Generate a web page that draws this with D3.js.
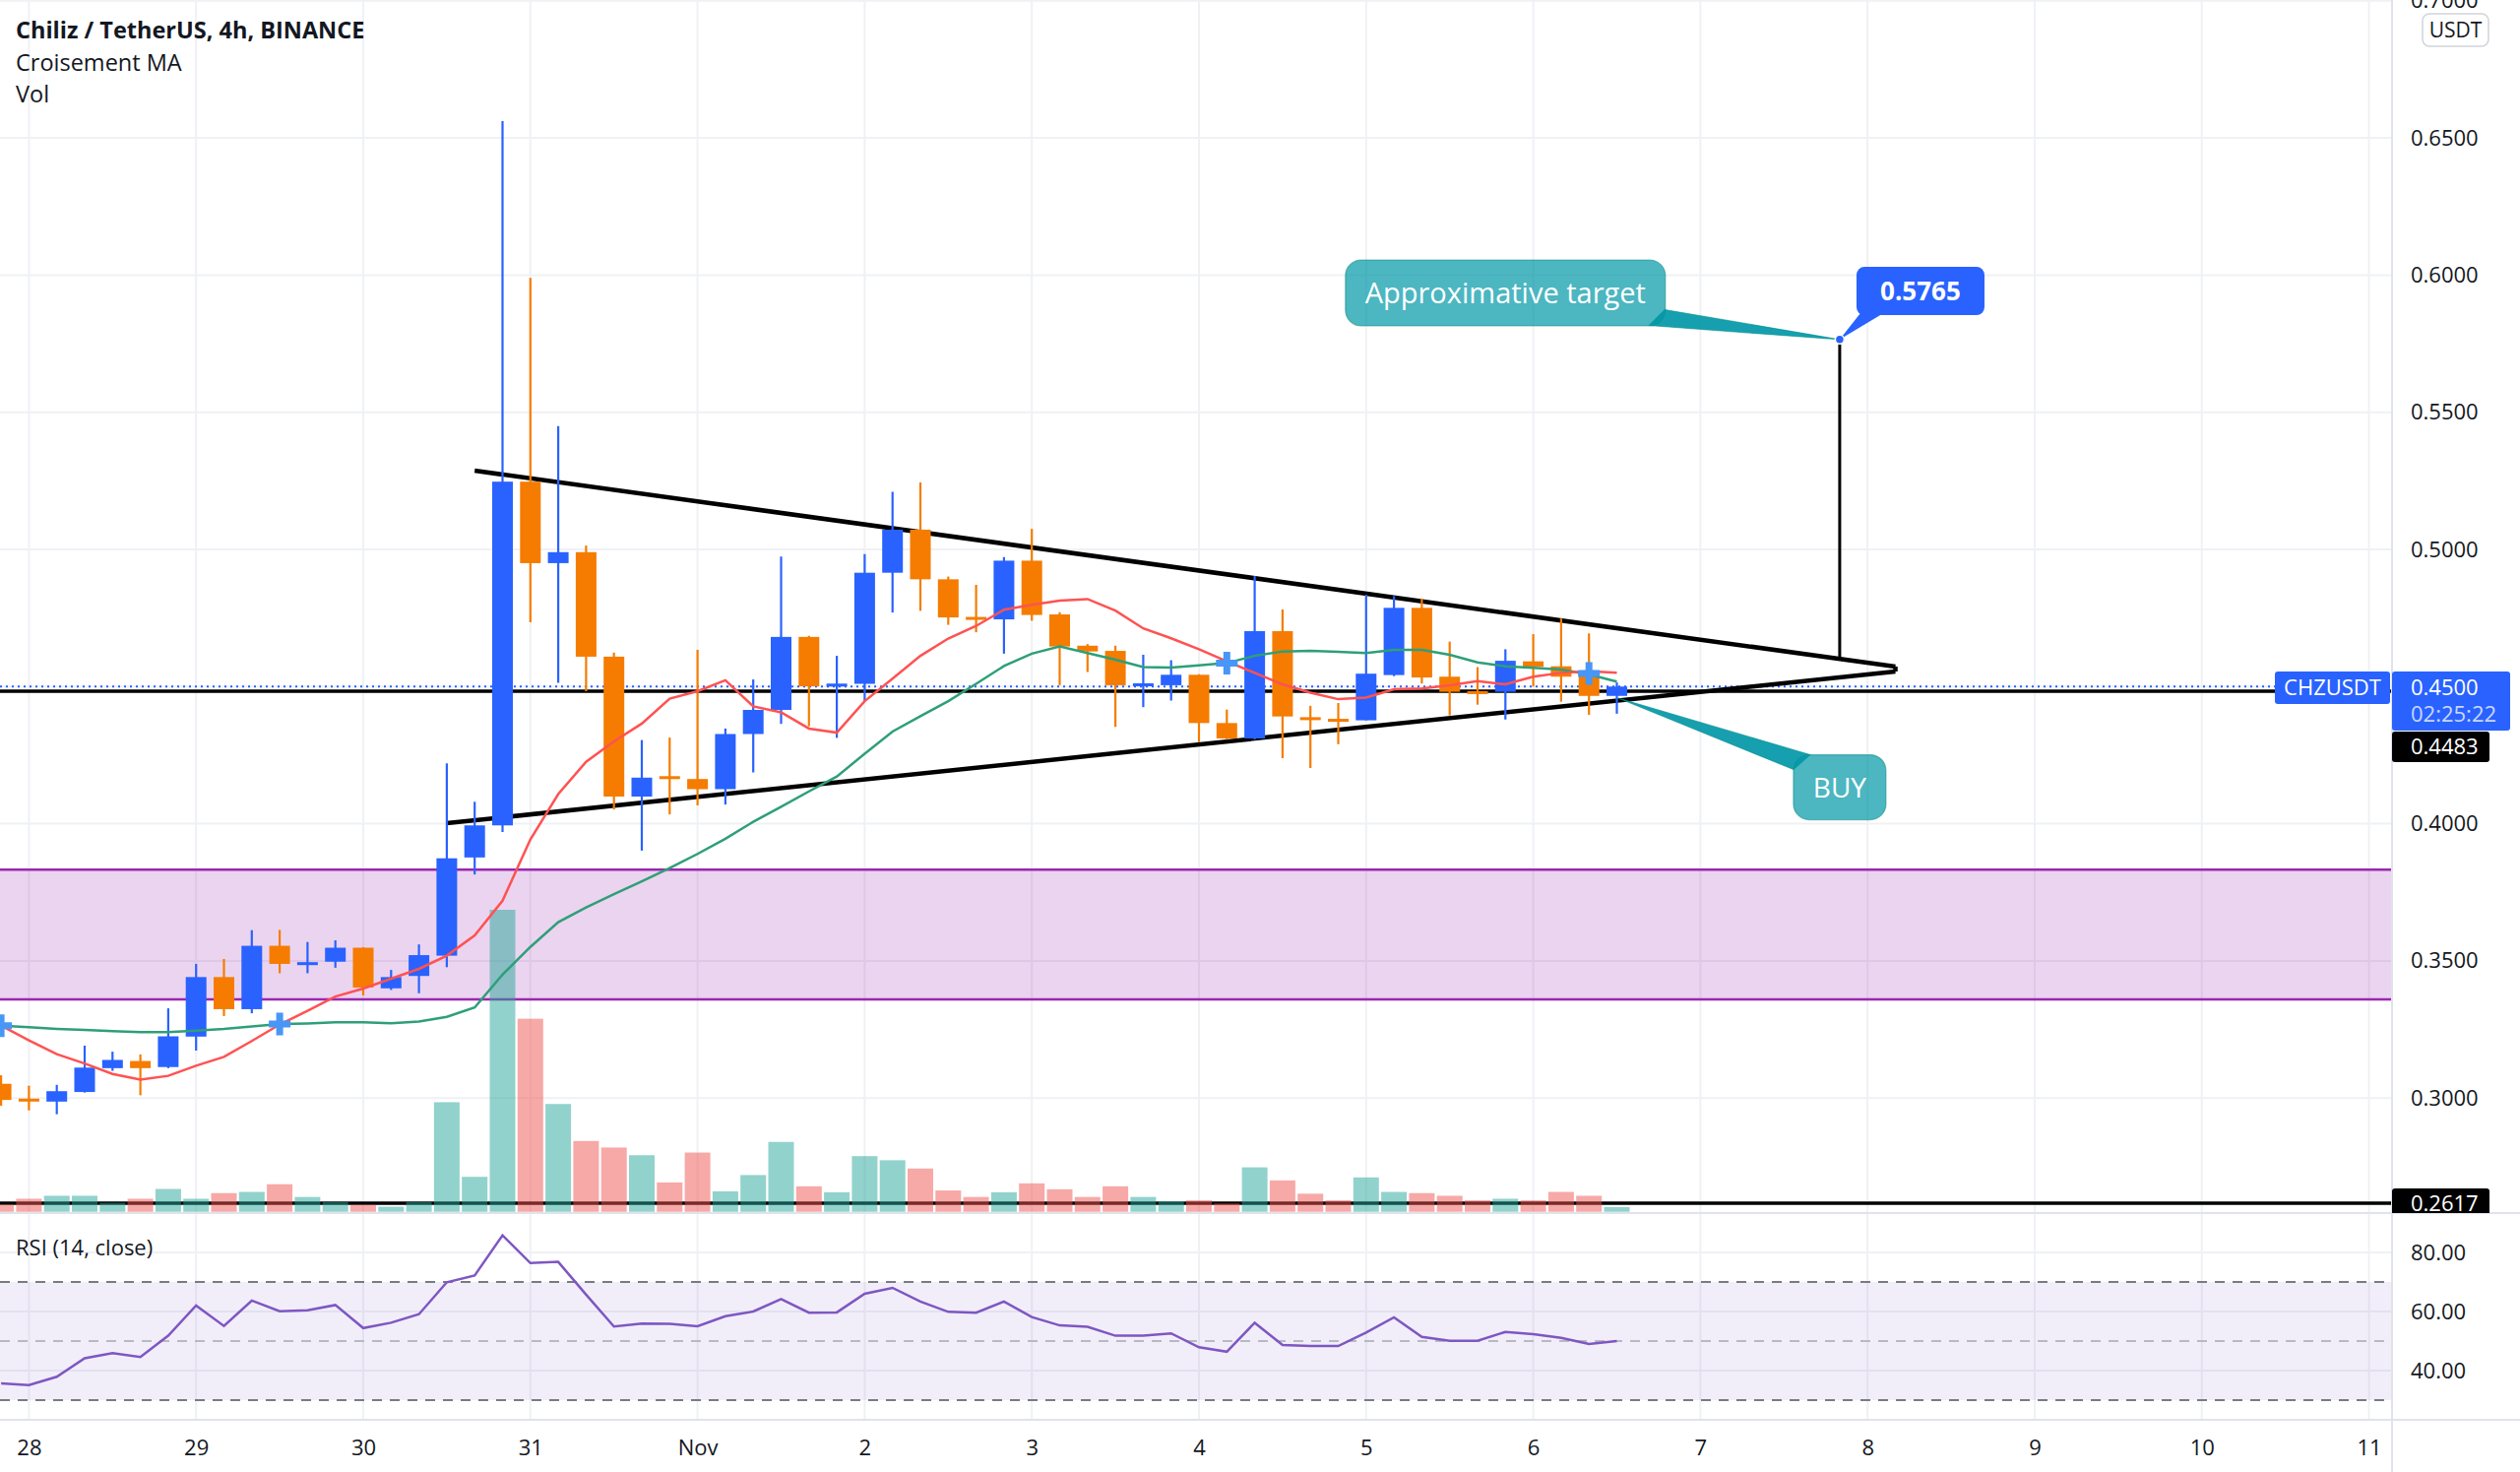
<!DOCTYPE html>
<html>
<head>
<meta charset="utf-8">
<script src="https://cdn.jsdelivr.net/npm/d3@7"></script>
<style>
  body { margin: 0; background: #fff; }
  svg { display: block; font-family: "Open Sans", sans-serif; }
</style>
</head>
<body>
<svg id="chartSvg"></svg>
<script>
"use strict";

// CHZ/USDT 4h candles, first bar is Oct 27 20:00 UTC
let opens  = [0.3052,0.2995,0.2987,0.3022,0.3109,0.3135,0.3113,0.3224,0.3441,0.3324,0.3555,0.3488,0.3497,0.3548,0.3400,0.3445,0.3519,0.3877,0.3994,0.5247,0.4950,0.4990,0.4609,0.4099,0.4170,0.4163,0.4126,0.4327,0.4415,0.4681,0.4501,0.4510,0.4915,0.5072,0.4891,0.4752,0.4745,0.4959,0.4763,0.4649,0.4630,0.4504,0.4505,0.4543,0.4367,0.4311,0.4702,0.4385,0.4379,0.4377,0.4542,0.4787,0.4536,0.4480,0.4481,0.4592,0.4574,0.4553,0.4466];
let highs  = [0.3083,0.3045,0.3048,0.3191,0.3169,0.3159,0.3327,0.3489,0.3507,0.3612,0.3613,0.3569,0.3575,0.3550,0.3467,0.3560,0.4220,0.4080,0.6561,0.5990,0.5450,0.5014,0.4624,0.4305,0.4314,0.4634,0.4347,0.4526,0.4974,0.4685,0.4612,0.4983,0.5210,0.5244,0.4901,0.4871,0.4972,0.5075,0.4771,0.4655,0.4649,0.4616,0.4596,0.4545,0.4416,0.4903,0.4781,0.4430,0.4440,0.4835,0.4830,0.4821,0.4664,0.4571,0.4636,0.4691,0.4748,0.4694,0.4515];
let lows   = [0.2972,0.2955,0.2941,0.3020,0.3099,0.3010,0.3109,0.3173,0.3299,0.3309,0.3455,0.3455,0.3475,0.3374,0.3394,0.3382,0.3477,0.3815,0.3970,0.4734,0.4514,0.4483,0.4052,0.3902,0.4034,0.4067,0.4070,0.4187,0.4364,0.4355,0.4313,0.4447,0.4770,0.4776,0.4725,0.4698,0.4620,0.4740,0.4505,0.4553,0.4353,0.4425,0.4449,0.4297,0.4306,0.4307,0.4239,0.4203,0.4290,0.4377,0.4538,0.4511,0.4395,0.4434,0.4380,0.4500,0.4445,0.4397,0.4401];
let closes = [0.2993,0.2990,0.3025,0.3111,0.3139,0.3109,0.3225,0.3441,0.3324,0.3555,0.3489,0.3492,0.3548,0.3403,0.3441,0.3521,0.3874,0.3994,0.5247,0.4950,0.4990,0.4609,0.4099,0.4168,0.4166,0.4126,0.4327,0.4415,0.4681,0.4501,0.4510,0.4915,0.5072,0.4891,0.4752,0.4745,0.4959,0.4761,0.4646,0.4628,0.4505,0.4509,0.4543,0.4367,0.4311,0.4702,0.4391,0.4381,0.4375,0.4547,0.4787,0.4533,0.4481,0.4476,0.4594,0.4572,0.4536,0.4466,0.4500];
let volumes = [2.4,4.4,5.4,5.4,3.0,4.4,7.7,4.4,6.3,6.7,9.3,5.0,3.3,2.3,1.7,3.3,37,11.8,102,65.2,36.4,23.9,21.7,19.1,9.9,20,6.9,12.4,23.6,8.6,6.6,18.8,17.4,14.6,7.2,5.0,6.6,9.6,7.6,5.0,8.6,5.0,3.6,3.9,2.8,15,10.6,6.1,3.9,11.6,6.7,6.3,5.4,3.9,4.4,3.9,6.7,5.4,1.6];

// "Croisement MA" lines
let maFast = [0.3264,0.3210,0.3160,0.3126,0.3088,0.3067,0.3081,0.3118,0.3150,0.3208,0.3268,0.3318,0.3370,0.3399,0.3435,0.3471,0.3519,0.3593,0.3719,0.3943,0.4108,0.4226,0.4300,0.4365,0.4456,0.4483,0.4523,0.4428,0.4406,0.4347,0.4332,0.4447,0.4529,0.4612,0.4675,0.4721,0.4780,0.4798,0.4813,0.4819,0.4777,0.4712,0.4676,0.4636,0.4592,0.4550,0.4508,0.4478,0.4454,0.4460,0.4490,0.4493,0.4505,0.4520,0.4508,0.4536,0.4550,0.4556,0.4550];
let maSlow = [0.3264,0.3258,0.3252,0.3248,0.3244,0.3240,0.3240,0.3246,0.3252,0.3261,0.3270,0.3272,0.3276,0.3276,0.3273,0.3279,0.3296,0.3330,0.3450,0.3551,0.3641,0.3695,0.3743,0.3790,0.3838,0.3890,0.3945,0.4007,0.4062,0.4118,0.4172,0.4255,0.4336,0.4392,0.4447,0.4510,0.4575,0.4620,0.4646,0.4622,0.4598,0.4571,0.4569,0.4577,0.4586,0.4612,0.4628,0.4630,0.4627,0.4622,0.4634,0.4634,0.4616,0.4588,0.4574,0.4568,0.4562,0.4544,0.4518];
let crossBars = [0, 10, 44, 57];
let crossPrices = [0.3264, 0.3270, 0.4585, 0.4548];

// RSI (14, close)
let rsi = [35.7,35.1,37.9,44.2,45.9,44.6,51.8,62.0,55.1,63.7,60.1,60.4,62.2,54.4,56.2,59.1,69.9,72.2,85.8,76.4,76.8,65.7,54.9,55.9,55.8,55.0,58.4,60.0,64.2,59.6,59.7,66.0,68.0,63.4,59.9,59.6,63.4,58.1,55.3,54.8,51.8,51.8,52.6,47.9,46.4,56.2,48.7,48.3,48.3,52.9,58.0,51.4,50.1,50.1,53.1,52.3,51.1,49.0,50.0];

// axis ticks
let priceTicks = [0.30, 0.35, 0.40, 0.45, 0.50, 0.55, 0.60, 0.65, 0.70];
let priceLabels = [0.30, 0.35, 0.40, 0.50, 0.55, 0.60, 0.65, 0.70];
let rsiTicks = [40, 60, 80];

// drawings
let zoneTop = 0.3833, zoneBottom = 0.3360;
let lastPrice = 0.4500, blackLevels = [0.4483, 0.2617];
let upperLine = [[64, 0.5287], [268, 0.4573]];   // hours from Oct 28 00:00
let apexLine = [[268, 0.4573], [268, 0.4555]];
let lowerLine = [[60, 0.4002], [268, 0.4555]];
let targetLine = [[260, 0.5765], [260, 0.4602]];

let W = 2560, H = 1495;
let plotRight = 2430, mainBottom = 1232, rsiBottom = 1442;

let t0 = Date.UTC(2021, 9, 28);
let hourDate = h => new Date(t0 + h * 3600e3);
let barTimes = d3.utcHour.every(4).range(hourDate(-4), hourDate(-4 + 4 * opens.length));
let days = d3.utcDay.range(hourDate(0), hourDate(24 * 14 + 1));

let xScale = d3.scaleUtc().domain([hourDate(0), hourDate(24 * 14)]).range([29.4, 2406.6]);
let yScale = d3.scaleLinear().domain([0.30, 0.65]).range([1115.2, 140.1]);
let yVol = d3.scaleLinear().domain([0, 102]).range([1230.7, 924]);
let yRsi = d3.scaleLinear().domain([30, 70]).range([1422, 1302]);

let svg = d3.select("#chartSvg").attr("width", W).attr("height", H);
svg.append("rect").attr("width", W).attr("height", H).attr("fill", "#fff");

let defs = svg.append("defs");
defs.append("clipPath").attr("id", "mainClip").append("rect")
  .attr("x", 0).attr("y", 0).attr("width", plotRight).attr("height", mainBottom);
defs.append("clipPath").attr("id", "rsiClip").append("rect")
  .attr("x", 0).attr("y", mainBottom).attr("width", plotRight).attr("height", rsiBottom - mainBottom);
defs.append("clipPath").attr("id", "axisClip").append("rect")
  .attr("x", plotRight).attr("y", 0).attr("width", W - plotRight).attr("height", mainBottom);

// grid
let grid = svg.append("g").attr("stroke", "#eff1f5").attr("stroke-width", 2);
grid.selectAll(".vg").data(days).join("line")
  .attr("x1", d => xScale(d)).attr("x2", d => xScale(d))
  .attr("y1", 0).attr("y2", rsiBottom);
grid.selectAll(".hg").data(priceTicks).join("line")
  .attr("x1", 0).attr("x2", plotRight)
  .attr("y1", d => yScale(d)).attr("y2", d => yScale(d));
grid.selectAll(".rg").data(rsiTicks).join("line")
  .attr("x1", 0).attr("x2", plotRight)
  .attr("y1", d => yRsi(d)).attr("y2", d => yRsi(d));

// main pane
let main = svg.append("g").attr("clip-path", "url(#mainClip)");

main.append("rect")
  .attr("x", 0).attr("width", plotRight)
  .attr("y", yScale(zoneTop)).attr("height", yScale(zoneBottom) - yScale(zoneTop))
  .attr("fill", "rgba(156,39,176,0.2)");
main.selectAll(".zb").data([zoneTop, zoneBottom]).join("line")
  .attr("x1", 0).attr("x2", plotRight)
  .attr("y1", d => yScale(d)).attr("y2", d => yScale(d))
  .attr("stroke", "#9c27b0").attr("stroke-width", 2.5);

main.selectAll(".bl").data(blackLevels).join("line")
  .attr("x1", 0).attr("x2", plotRight)
  .attr("y1", d => yScale(d)).attr("y2", d => yScale(d))
  .attr("stroke", "#000").attr("stroke-width", 3.5);

main.append("line")
  .attr("x1", 0).attr("x2", 2311)
  .attr("y1", yScale(lastPrice)).attr("y2", yScale(lastPrice))
  .attr("stroke", "#2962ff").attr("stroke-width", 2).attr("stroke-dasharray", "2,4");

// volume
let bw = 26;
main.selectAll(".vol").data(volumes).join("rect")
  .attr("x", (d, i) => xScale(barTimes[i]) - bw / 2)
  .attr("width", bw)
  .attr("y", d => yVol(d))
  .attr("height", d => yVol(0) - yVol(d))
  .attr("fill", (d, i) => closes[i] >= opens[i] ? "rgba(38,166,154,0.5)" : "rgba(239,83,80,0.5)");

// trend lines
let ptLine = d3.line().x(d => xScale(hourDate(d[0]))).y(d => yScale(d[1]));
[upperLine, apexLine, lowerLine].forEach(l => {
  main.append("path").attr("d", ptLine(l))
    .attr("fill", "none").attr("stroke", "#000").attr("stroke-width", 4.5);
});
main.append("path").attr("d", ptLine(targetLine))
  .attr("fill", "none").attr("stroke", "#000").attr("stroke-width", 3);

// candles
let upColor = "#2962ff", downColor = "#f57c00";
let candles = main.selectAll(".candle").data(opens).join("g")
  .attr("fill", (d, i) => closes[i] >= opens[i] ? upColor : downColor)
  .attr("stroke", (d, i) => closes[i] >= opens[i] ? upColor : downColor);
candles.append("line")
  .attr("x1", (d, i) => xScale(barTimes[i])).attr("x2", (d, i) => xScale(barTimes[i]))
  .attr("y1", (d, i) => yScale(highs[i])).attr("y2", (d, i) => yScale(lows[i]))
  .attr("stroke-width", 2.2);
candles.append("rect")
  .attr("stroke", "none")
  .attr("x", (d, i) => xScale(barTimes[i]) - 10.5)
  .attr("width", 21)
  .attr("y", (d, i) => {
    let top = yScale(Math.max(opens[i], closes[i]));
    let h = yScale(Math.min(opens[i], closes[i])) - top;
    return h < 3 ? top - (3 - h) / 2 : top;
  })
  .attr("height", (d, i) => Math.max(3, Math.abs(yScale(opens[i]) - yScale(closes[i]))));

// moving averages
let maLine = d3.line().x((d, i) => xScale(barTimes[i])).y(d => yScale(d));
main.append("path").attr("d", maLine(maSlow))
  .attr("fill", "none").attr("stroke", "#2e9f78").attr("stroke-width", 2.5);
main.append("path").attr("d", maLine(maFast))
  .attr("fill", "none").attr("stroke", "#ff5252").attr("stroke-width", 2.5);

// cross markers
main.selectAll(".cross").data(crossBars).join("path")
  .attr("transform", (d, i) => `translate(${xScale(barTimes[d])},${yScale(crossPrices[i])})`)
  .attr("d", "M-3.5,-11.5H3.5V-3.5H11V3.5H3.5V11.5H-3.5V3.5H-11V-3.5H-3.5Z")
  .attr("fill", "#4896f5");

// callouts
let callFill = "rgba(0,151,167,0.7)";
function callout(text, cx, cy, w, h, tip, p1, p2, fs) {
  let g = svg.append("g");
  g.append("path")
    .attr("d", `M${p1[0]},${p1[1]}L${tip[0]},${tip[1]}L${p2[0]},${p2[1]}Z`)
    .attr("fill", callFill).attr("stroke", "rgba(0,137,123,0.5)").attr("stroke-width", 1.2);
  g.append("rect")
    .attr("x", cx - w / 2).attr("y", cy - h / 2).attr("width", w).attr("height", h)
    .attr("rx", 16).attr("fill", callFill).attr("stroke", "rgba(0,137,123,0.5)").attr("stroke-width", 1.2);
  g.append("path")
    .attr("d", `M${p1[0]},${p1[1]}L${tip[0]},${tip[1]}L${p2[0]},${p2[1]}`)
    .attr("fill", callFill);
  g.append("text").attr("x", cx).attr("y", cy).attr("dy", "0.36em")
    .attr("text-anchor", "middle").attr("fill", "#fff")
    .attr("font-size", fs).text(text);
}

let tgt = [xScale(hourDate(targetLine[0][0])), yScale(targetLine[0][1])];
let tbx = xScale(hourDate(212)), tby = yScale(0.5935);
callout("Approximative target", tbx, tby, 325, 67, tgt,
  [tbx + 162, tby + 17], [tbx + 146, tby + 33], 29);

let buyTip = [xScale(hourDate(228.2)), yScale(0.4458)];
let bbx = xScale(hourDate(260)), bby = yScale(0.4133);
callout("BUY", bbx, bby, 94, 66, buyTip,
  [bbx - 47, bby - 18], [bbx - 30, bby - 33], 28);

// target price label
let lbx = xScale(hourDate(271.6)), lby = yScale(0.5942);
let lab = svg.append("g");
lab.append("path")
  .attr("d", `M${lbx - 59},${lby + 20}L${tgt[0]},${tgt[1]}L${lbx - 40},${lby + 24}Z`)
  .attr("fill", "#2962ff");
lab.append("rect").attr("x", lbx - 65).attr("y", lby - 24.5).attr("width", 130).attr("height", 49)
  .attr("rx", 8).attr("fill", "#2962ff");
lab.append("text").attr("x", lbx).attr("y", lby).attr("dy", "0.36em")
  .attr("text-anchor", "middle").attr("fill", "#fff").attr("font-weight", "bold")
  .attr("font-size", 26).text(d3.format(".4f")(targetLine[0][1]));
lab.append("circle").attr("cx", tgt[0]).attr("cy", tgt[1]).attr("r", 4.5)
  .attr("fill", "#2962ff").attr("stroke", "#fff").attr("stroke-width", 1.5);

// rsi pane
let rsiG = svg.append("g").attr("clip-path", "url(#rsiClip)");
rsiG.append("rect")
  .attr("x", 0).attr("width", plotRight)
  .attr("y", yRsi(70)).attr("height", yRsi(30) - yRsi(70))
  .attr("fill", "rgba(126,87,194,0.1)");
rsiG.selectAll(".rb").data([70, 50, 30]).join("line")
  .attr("x1", 0).attr("x2", plotRight)
  .attr("y1", d => yRsi(d)).attr("y2", d => yRsi(d))
  .attr("stroke", d => d === 50 ? "#b8bac3" : "#787b86")
  .attr("stroke-width", 2).attr("stroke-dasharray", "10,8");
rsiG.append("path")
  .attr("d", d3.line().x((d, i) => xScale(barTimes[i])).y(d => yRsi(d))(rsi))
  .attr("fill", "none").attr("stroke", "#7e57c2").attr("stroke-width", 2.5);

// pane borders
let borders = svg.append("g").attr("stroke", "#e0e3eb").attr("stroke-width", 2);
borders.append("line").attr("x1", 0).attr("x2", W).attr("y1", mainBottom).attr("y2", mainBottom);
borders.append("line").attr("x1", 0).attr("x2", W).attr("y1", rsiBottom).attr("y2", rsiBottom);
borders.append("line").attr("x1", plotRight).attr("x2", plotRight).attr("y1", 0).attr("y2", H);

// axes
let textColor = "#131722";
let priceAxis = svg.append("g").attr("clip-path", "url(#axisClip)")
  .append("g")
  .attr("transform", `translate(${plotRight},0)`)
  .call(d3.axisRight(yScale).tickValues(priceLabels).tickFormat(d3.format(".4f")).tickSize(0).tickPadding(19));
let rsiAxis = svg.append("g")
  .attr("transform", `translate(${plotRight},0)`)
  .call(d3.axisRight(yRsi).tickValues(rsiTicks).tickFormat(d3.format(".2f")).tickSize(0).tickPadding(19));
let timeAxis = svg.append("g")
  .attr("transform", `translate(0,${rsiBottom})`)
  .call(d3.axisBottom(xScale).tickValues(days)
    .tickFormat(d => d.getUTCDate() === 1 ? d3.utcFormat("%b")(d) : d.getUTCDate())
    .tickSize(0).tickPadding(20));
[priceAxis, rsiAxis, timeAxis].forEach(a => {
  a.select(".domain").remove();
  a.selectAll("text").attr("font-family", "Open Sans").attr("font-size", 22).attr("fill", textColor);
});

// labels for the last price line
svg.append("rect").attr("x", 2311).attr("y", 682).attr("width", 117).attr("height", 33)
  .attr("rx", 3).attr("fill", "#2962ff");
svg.append("text").attr("x", 2369.5).attr("y", 706).attr("text-anchor", "middle")
  .attr("font-size", 22).attr("fill", "#fff").text("CHZUSDT");

let axLab = svg.append("g").attr("clip-path", "url(#axisClip)").attr("font-size", 22);
axLab.append("rect").attr("x", plotRight).attr("y", 682).attr("width", 120).attr("height", 60)
  .attr("rx", 3).attr("fill", "#2962ff");
axLab.append("text").attr("x", 2449).attr("y", 706).attr("fill", "#fff").text(d3.format(".4f")(lastPrice));
axLab.append("text").attr("x", 2449).attr("y", 733).attr("fill", "rgba(255,255,255,0.75)").text("02:25:22");
axLab.append("rect").attr("x", plotRight).attr("y", 743).attr("width", 99).attr("height", 31)
  .attr("rx", 3).attr("fill", "#000");
axLab.append("text").attr("x", 2449).attr("y", 766).attr("fill", "#fff").text(d3.format(".4f")(blackLevels[0]));
axLab.append("rect").attr("x", plotRight).attr("y", yScale(blackLevels[1]) - 15).attr("width", 99).attr("height", 31)
  .attr("rx", 3).attr("fill", "#000");
axLab.append("text").attr("x", 2449).attr("y", yScale(blackLevels[1]) + 8).attr("fill", "#fff")
  .text(d3.format(".4f")(blackLevels[1]));

// currency badge
svg.append("rect").attr("x", 2461).attr("y", 14).attr("width", 67).attr("height", 33)
  .attr("rx", 7).attr("fill", "#fff").attr("stroke", "#d1d4dc").attr("stroke-width", 1.5);
svg.append("text").attr("x", 2494.5).attr("y", 38).attr("text-anchor", "middle")
  .attr("font-size", 21).attr("fill", textColor).text("USDT");

// legends
let legend = svg.append("g").attr("fill", textColor).attr("font-size", 23.5);
legend.append("text").attr("x", 16).attr("y", 39).attr("font-weight", "bold").text("Chiliz / TetherUS, 4h, BINANCE");
legend.append("text").attr("x", 16).attr("y", 72).text("Croisement MA");
legend.append("text").attr("x", 16).attr("y", 104).text("Vol");
svg.append("text").attr("x", 16).attr("y", 1275).attr("font-size", 22).attr("fill", textColor).text("RSI (14, close)");
</script>
</body>
</html>
